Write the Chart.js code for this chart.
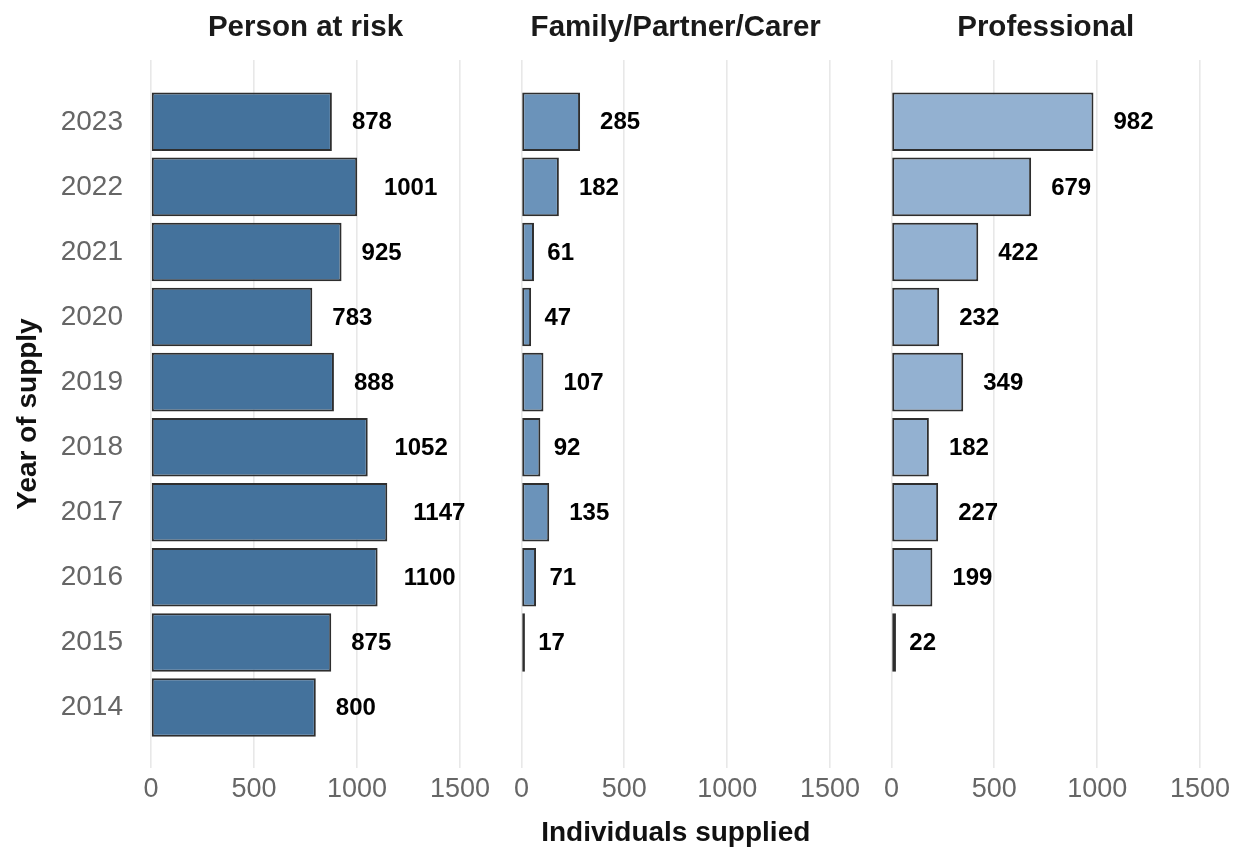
<!DOCTYPE html>
<html>
<head>
<meta charset="utf-8">
<script src="https://cdn.jsdelivr.net/npm/chart.js@4.4.1/dist/chart.umd.min.js"></script>
<style>
  html, body { margin:0; padding:0; background:#fff; overflow:hidden; }
  body { width:1234px; height:847px; position:relative; }
  .panel { position:absolute; top:0; height:847px; }
</style>
</head>
<body>
<div class="panel" style="left:0;width:496px"><canvas id="p1"></canvas></div>
<div class="panel" style="left:500px;width:366px"><canvas id="p2"></canvas></div>
<div class="panel" style="left:870px;width:366px"><canvas id="p3"></canvas></div>
<script>
const years = [2014, 2015, 2016, 2017, 2018, 2019, 2020, 2021, 2022, 2023];
const personAtRisk = [800, 875, 1100, 1147, 1052, 888, 783, 925, 1001, 878];
const familyCarer  = [null, 17, 71, 135, 92, 107, 47, 61, 182, 285];
const professional = [null, 22, 199, 227, 182, 349, 232, 422, 679, 982];
const xTicks = [0, 500, 1000, 1500];

const FONT = "'Liberation Sans', Arial, sans-serif";

/* bold value labels right of each bar (hjust -0.5 style) */
const valueLabels = {
    id: 'valueLabels',
    afterDatasetsDraw(chart) {
        const ctx = chart.ctx;
        const meta = chart.getDatasetMeta(0);
        const data = chart.data.datasets[0].data;
        ctx.save();
        ctx.font = 'bold 24px ' + FONT;
        ctx.fillStyle = '#000';
        ctx.textAlign = 'center';
        ctx.textBaseline = 'middle';
        meta.data.forEach((bar, i) => {
            if (data[i] == null) return;
            const txt = String(data[i]);
            const w = ctx.measureText(txt).width;
            ctx.fillText(txt, bar.x + w, bar.y + 1);
        });
        ctx.restore();
    }
};

function makePanel(id, title, values, color, opts) {
    const ctx = document.getElementById(id).getContext('2d');
    return new Chart(ctx, {
        type: 'bar',
        data: {
            labels: years,
            datasets: [{
                data: values,
                backgroundColor: color,
                borderColor: '#2e2e2e',
                borderWidth: 2,
                borderSkipped: false,
                barPercentage: 0.9,
                categoryPercentage: 1.0
            }]
        },
        options: {
            indexAxis: 'y',
            responsive: true,
            maintainAspectRatio: false,
            animation: false,
            layout: { padding: { left: opts.padLeft, right: 20, top: 0, bottom: 0 } },
            plugins: {
                legend: { display: false },
                tooltip: { enabled: false },
                title: {
                    display: true,
                    fullSize: false,
                    text: title,
                    color: '#1a1a1a',
                    font: { family: FONT, size: 29.5, weight: 'bold', lineHeight: 1.2 },
                    padding: { top: 10, bottom: 14.6 }
                }
            },
            scales: {
                x: {
                    type: 'linear',
                    min: -75,
                    max: 1575,
                    afterBuildTicks: s => { s.ticks = xTicks.map(v => ({ value: v })); },
                    afterFit: s => { s.height = 79; },
                    grid: { color: '#e8e8e8', lineWidth: 1.6, drawTicks: false },
                    border: { display: false },
                    ticks: {
                        color: '#666666',
                        padding: 5,
                        maxRotation: 0,
                        font: { family: FONT, size: 27 },
                        callback: v => String(v)
                    },
                    title: {
                        display: opts.xTitle,
                        text: 'Individuals supplied',
                        color: '#111',
                        font: { family: FONT, size: 28, weight: 'bold', lineHeight: 1 },
                        padding: { top: 0, bottom: 0 }
                    }
                },
                y: {
                    type: 'linear',
                    min: 2013.07,
                    max: 2023.95,
                    offset: false,
                    display: opts.yAxis,
                    afterBuildTicks: s => { s.ticks = years.map(v => ({ value: v })); },
                    afterFit: s => { s.width = opts.yAxis ? 135.5 : 0; },
                    grid: { display: false, drawTicks: false, offset: false },
                    border: { display: false },
                    ticks: {
                        color: '#666666',
                        padding: 12.5,
                        font: { family: FONT, size: 28 },
                        callback: v => String(v)
                    },
                    title: {
                        display: true,
                        text: 'Year of supply',
                        color: '#111',
                        font: { family: FONT, size: 28, weight: 'bold', lineHeight: 1 },
                        padding: { top: 14, bottom: 0 }
                    }
                }
            }
        },
        plugins: [valueLabels]
    });
}

makePanel('p1', 'Person at risk', personAtRisk, '#44729c', { padLeft: 0, yAxis: true, xTitle: false });
makePanel('p2', 'Family/Partner/Carer', familyCarer, '#6b93ba', { padLeft: 6, yAxis: false, xTitle: true });
makePanel('p3', 'Professional', professional, '#93b1d1', { padLeft: 6, yAxis: false, xTitle: false });
</script>
</body>
</html>
